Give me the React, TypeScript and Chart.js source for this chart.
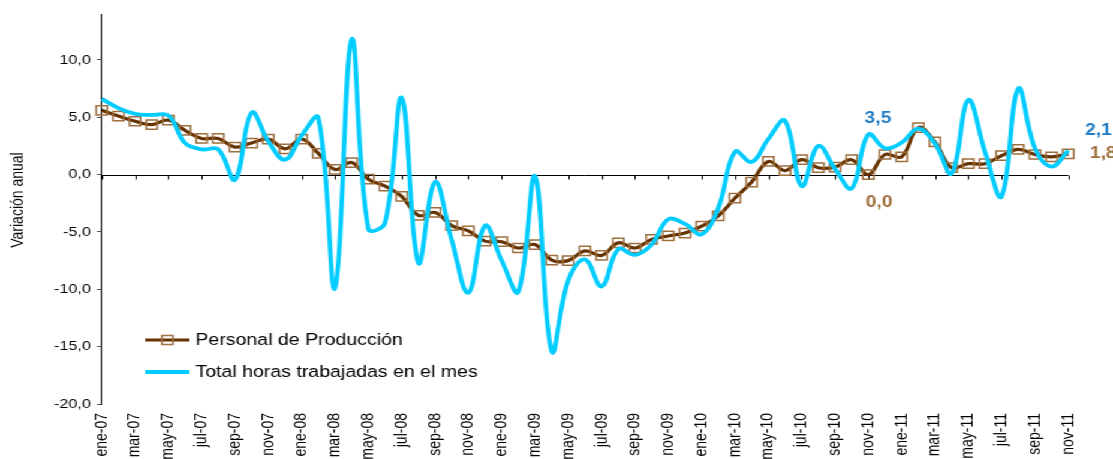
import { useEffect, useRef } from "react";
import { Chart, registerables } from "chart.js";

Chart.register(...registerables);

// ---- Data ----
const categories: string[] = [
  "ene-07", "feb-07", "mar-07", "abr-07", "may-07", "jun-07", "jul-07", "ago-07", "sep-07", "oct-07", "nov-07", "dic-07",
  "ene-08", "feb-08", "mar-08", "abr-08", "may-08", "jun-08", "jul-08", "ago-08", "sep-08", "oct-08", "nov-08", "dic-08",
  "ene-09", "feb-09", "mar-09", "abr-09", "may-09", "jun-09", "jul-09", "ago-09", "sep-09", "oct-09", "nov-09", "dic-09",
  "ene-10", "feb-10", "mar-10", "abr-10", "may-10", "jun-10", "jul-10", "ago-10", "sep-10", "oct-10", "nov-10", "dic-10",
  "ene-11", "feb-11", "mar-11", "abr-11", "may-11", "jun-11", "jul-11", "ago-11", "sep-11", "oct-11", "nov-11",
];

const tickLabels: string[] = categories.filter((_, i) => i % 2 === 0);

const personalProduccion: number[] = [
  5.6, 5.1, 4.65, 4.35, 4.75, 3.85, 3.15, 3.15, 2.4, 2.75, 3.1, 2.25,
  3.1, 1.85, 0.45, 1.05, -0.4, -1.0, -1.9, -3.55, -3.3, -4.45, -4.9, -5.8,
  -5.85, -6.4, -6.1, -7.45, -7.5, -6.65, -7.05, -5.95, -6.4, -5.65, -5.35, -5.1,
  -4.5, -3.6, -2.05, -0.65, 1.15, 0.35, 1.3, 0.6, 0.65, 1.3, 0.0, 1.75,
  1.55, 4.1, 2.85, 0.6, 0.95, 0.95, 1.65, 2.2, 1.75, 1.55, 1.8,
];

const totalHoras: number[] = [
  6.6, 5.8, 5.3, 5.2, 5.15, 2.75, 2.2, 2.2, -0.45, 5.4, 2.9, 1.3,
  3.4, 4.95, -9.9, 11.8, -4.75, -4.2, 6.7, -7.7, -0.65, -5.7, -10.3, -4.45,
  -7.5, -10.2, -0.15, -15.4, -9.2, -7.4, -9.75, -6.5, -7.0, -6.1, -3.9, -4.3,
  -5.2, -2.9, 2.0, 1.1, 3.1, 4.7, -1.0, 2.5, 0.5, -1.2, 3.5, 2.3,
  2.8, 4.0, 2.7, 0.1, 6.5, 2.0, -1.9, 7.5, 2.3, 0.7, 2.1,
];

const seriesNames: string[] = ["Personal de Producción", "Total horas trabajadas en el mes"];
const yTitle = "Variación anual";

// ---- Styling ----
const OUT_W = 1113;
const IN_W = 928;
const H = 459;
const SX = OUT_W / IN_W;
const FONT = "'Liberation Sans', Arial, Helvetica, sans-serif";
const BROWN = "#663300";
const BROWN_MARK = "#9E6E3E";
const BROWN_LABEL = "#A0703C";
const BLUE = "#00CCFF";
const BLUE_LABEL = "#1E7BC4";

const fmt = (v: number) => v.toFixed(1).replace(".", ",");

const decorPlugin = {
  id: "decor",
  beforeDatasetsDraw(chart: any) {
    const { ctx, chartArea, scales } = chart;
    const x = scales.x;
    const y = scales.y;
    const y0 = Math.round(y.getPixelForValue(0)) + 0.5;
    ctx.save();
    ctx.strokeStyle = "#000";
    ctx.lineWidth = 1;
    ctx.beginPath();
    ctx.moveTo(chartArea.left, y0);
    ctx.lineTo(chartArea.right, y0);
    for (let i = 0; i < categories.length; i += 2) {
      const px = Math.round(x.getPixelForValue(i)) + 0.5;
      ctx.moveTo(px, y0);
      ctx.lineTo(px, y0 + 4);
    }
    ctx.stroke();
    ctx.restore();
  },
  afterDraw(chart: any) {
    const { ctx } = chart;
    const m0 = chart.getDatasetMeta(0);
    const m1 = chart.getDatasetMeta(1);
    ctx.save();
    // y title
    ctx.save();
    ctx.translate(15, 200);
    ctx.rotate(-Math.PI / 2);
    ctx.font = `14px ${FONT}`;
    ctx.fillStyle = "#000";
    ctx.textAlign = "center";
    ctx.textBaseline = "middle";
    ctx.fillText(yTitle, 0, 0);
    ctx.restore();

    // data labels
    ctx.font = `bold 16px ${FONT}`;
    ctx.textBaseline = "middle";
    const iMid = 46;
    const iLast = categories.length - 1;
    const pB = m1.data[iMid];
    const pP = m0.data[iMid];
    ctx.textAlign = "center";
    ctx.fillStyle = BLUE_LABEL;
    ctx.fillText(fmt(totalHoras[iMid]), pB.x + 8, pB.y - 16);
    ctx.fillStyle = BROWN_LABEL;
    ctx.fillText(fmt(personalProduccion[iMid]), pP.x + 9, pP.y + 28);
    const lB = m1.data[iLast];
    const lP = m0.data[iLast];
    ctx.textAlign = "left";
    ctx.fillStyle = BLUE_LABEL;
    ctx.fillText(fmt(totalHoras[iLast]), lB.x + 14, lB.y - 20);
    ctx.fillStyle = BROWN_LABEL;
    ctx.fillText(fmt(personalProduccion[iLast]), lP.x + 18, lP.y);

    // legend
    const lx0 = 121;
    const lx1 = 158;
    const rows = [340, 372];
    ctx.lineCap = "butt";
    ctx.strokeStyle = BROWN;
    ctx.lineWidth = 3;
    ctx.beginPath();
    ctx.moveTo(lx0, rows[0]);
    ctx.lineTo(lx1, rows[0]);
    ctx.stroke();
    ctx.strokeStyle = BROWN_MARK;
    ctx.lineWidth = 1.5;
    ctx.strokeRect((lx0 + lx1) / 2 - 4.5, rows[0] - 4.5, 9, 9);
    ctx.strokeStyle = BLUE;
    ctx.lineWidth = 4;
    ctx.beginPath();
    ctx.moveTo(lx0, rows[1]);
    ctx.lineTo(lx1, rows[1]);
    ctx.stroke();
    ctx.font = `16.3px ${FONT}`;
    ctx.fillStyle = "#000";
    ctx.textAlign = "left";
    ctx.textBaseline = "middle";
    ctx.fillText(seriesNames[0], 163, rows[0] + 1);
    ctx.fillText(seriesNames[1], 163, rows[1] + 1);
    ctx.restore();
  },
};

export default function App() {
  const ref = useRef<HTMLCanvasElement | null>(null);

  useEffect(() => {
    document.body.style.margin = "0";
    const canvas = ref.current;
    if (!canvas) return;
    const chart = new Chart(canvas, {
      type: "line",
      data: {
        labels: categories,
        datasets: [
          {
            label: seriesNames[0],
            data: personalProduccion,
            borderColor: BROWN,
            borderWidth: 3.2,
            tension: 0.4,
            pointStyle: "rect",
            pointRadius: 6.5,
            pointBorderWidth: 1.5,
            pointBorderColor: BROWN_MARK,
            pointBackgroundColor: "rgba(255,255,255,0)",
            order: 1,
          },
          {
            label: seriesNames[1],
            data: totalHoras,
            borderColor: BLUE,
            borderWidth: 3.8,
            tension: 0.4,
            pointRadius: 0,
            order: 0,
          },
        ],
      },
      options: {
        responsive: false,
        animation: false,
        devicePixelRatio: 1,
        layout: { padding: { left: 0, right: IN_W - 1068.3 / SX, top: 14, bottom: 0 } },
        plugins: {
          legend: { display: false },
          tooltip: { enabled: false },
          title: { display: false },
        },
        scales: {
          x: {
            type: "category",
            offset: false,
            grid: { display: false, drawTicks: false },
            border: { display: false },
            ticks: {
              autoSkip: false,
              minRotation: 90,
              maxRotation: 90,
              padding: 9,
              color: "#000",
              font: { family: FONT, size: 14 },
              callback: (_v: any, i: number) =>
                tickLabels.includes(categories[i]) ? categories[i] : "",
            },
            afterFit: (s: any) => {
              s.height = 55;
            },
          },
          y: {
            min: -20,
            max: 14,
            grid: { drawOnChartArea: false, drawTicks: true, tickLength: 4, color: "#555" },
            border: { display: true, color: "#000", width: 1 },
            ticks: {
              stepSize: 5,
              padding: 5,
              color: "#000",
              font: { family: FONT, size: 13.5 },
              callback: (v: any) => fmt(Number(v)),
            },
            afterBuildTicks: (s: any) => {
              s.ticks = s.ticks.filter((t: any) => t.value <= 10);
            },
            afterFit: (s: any) => {
              s.width = 101.7 / SX;
            },
          },
        },
      },
      plugins: [decorPlugin],
    });
    return () => chart.destroy();
  }, []);

  return (
    <div
      style={{
        position: "absolute",
        left: 0,
        top: 0,
        width: IN_W,
        height: H,
        transform: `scaleX(${SX})`,
        transformOrigin: "0 0",
        background: "#fff",
      }}
    >
      <canvas ref={ref} width={IN_W} height={H} style={{ width: IN_W, height: H, display: "block" }} />
    </div>
  );
}
